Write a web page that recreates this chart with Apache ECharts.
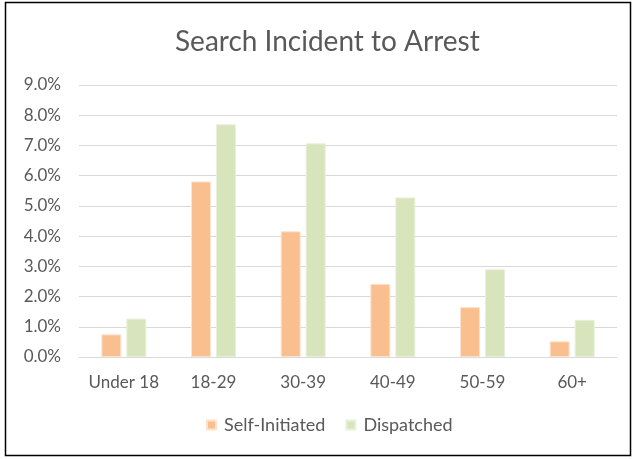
<!DOCTYPE html>
<html>
<head>
<meta charset="utf-8">
<script src="https://cdn.jsdelivr.net/npm/echarts@6/dist/echarts.min.js"></script>
<style>
    html, body { margin: 0; padding: 0; background: #fff; }
    #pageEcharts { width: 634px; height: 459px; }
</style>
</head>
<body>
<div id="pageEcharts"></div>
<script>
var categories = ['Under 18', '18-29', '30-39', '40-49', '50-59', '60+'];
var selfInitiated = [0.75, 5.81, 4.16, 2.42, 1.65, 0.52];
var dispatched = [1.27, 7.70, 7.07, 5.28, 2.90, 1.23];

var myChart = echarts.init(document.getElementById("pageEcharts"));
var textFont = "Lato, 'Open Sans', sans-serif";
var option = {
    backgroundColor: '#fff',
    animation: false,
    title: {
        text: 'Search Incident to Arrest',
        left: 170,
        top: 23,
        textStyle: {
            color: '#595959',
            fontSize: 28,
            fontWeight: 'normal',
            fontFamily: textFont
        }
    },
    graphic: [{
        type: 'rect',
        shape: { x: 5.5, y: 2.5, width: 625, height: 453 },
        style: { fill: 'none', stroke: '#000', lineWidth: 1.5 },
        silent: true
    }],
    legend: {
        data: ['Self-Initiated', 'Dispatched'],
        bottom: 20,
        left: 201,
        itemWidth: 9,
        itemHeight: 9,
        itemGap: 20,
        icon: 'rect',
        textStyle: {
            color: '#595959',
            fontSize: 18,
            fontFamily: textFont,
            padding: [0, 0, 0, 3]
        }
    },
    grid: {
        left: 79,
        right: 17,
        top: 85,
        bottom: 102
    },
    xAxis: {
        type: 'category',
        data: categories,
        axisTick: { show: false },
        axisLine: { lineStyle: { color: '#d9d9d9', width: 1 } },
        axisLabel: {
            interval: 0,
            margin: 17,
            color: '#595959',
            fontSize: 17,
            fontFamily: textFont
        }
    },
    yAxis: {
        type: 'value',
        min: 0,
        max: 9,
        interval: 1,
        axisLine: { show: false },
        axisTick: { show: false },
        splitLine: { lineStyle: { color: '#d9d9d9', width: 1 } },
        axisLabel: {
            margin: 18,
            color: '#595959',
            fontSize: 17,
            fontFamily: textFont,
            formatter: function (v) { return v.toFixed(1) + '%'; }
        }
    },
    series: [
        {
            name: 'Self-Initiated',
            type: 'bar',
            data: selfInitiated,
            barWidth: 20,
            barGap: '25%',
            itemStyle: { color: '#f9bf8f', borderColor: '#fde3cd', borderWidth: 1 }
        },
        {
            name: 'Dispatched',
            type: 'bar',
            data: dispatched,
            barWidth: 20,
            itemStyle: { color: '#d8e4bc', borderColor: '#e9f0d9', borderWidth: 1 }
        }
    ]
};
myChart.setOption(option);
</script>
</body>
</html>
